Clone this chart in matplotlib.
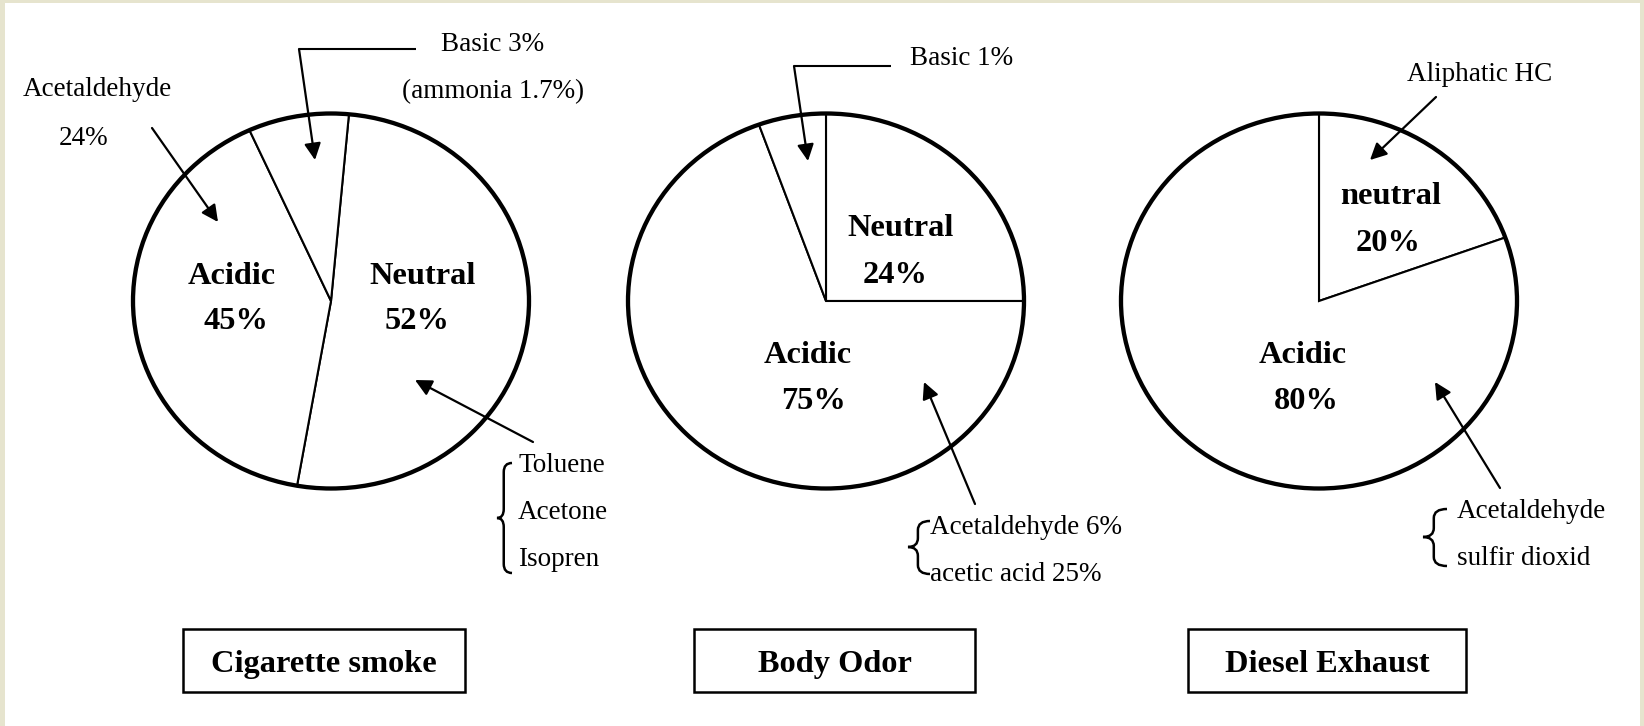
import matplotlib
matplotlib.use("Agg")
import matplotlib.pyplot as plt
from matplotlib.patches import Circle, Rectangle, PathPatch
from matplotlib.path import Path

W, H = 1644, 726
FRAME = "#E6E4CE"
INK = "black"
SERIF = ["Liberation Serif", "DejaVu Serif"]

# wedge shares as drawn in the picture (clockwise from the start angle)
smoke_wedges = [51.3, 40.5, 8.2]     # neutral, acidic, basic
odor_wedges = [25.0, 69.5, 5.5]      # neutral, acidic, basic
diesel_wedges = [19.5, 80.5]         # neutral, acidic
start_angles = [84.8, 90.0, 90.0]

panel_titles = ["Cigarette smoke", "Body Odor", "Diesel Exhaust"]

smoke_names = ["Acidic", "Neutral"]
smoke_pcts = ["45%", "52%"]
odor_names = ["Neutral", "Acidic"]
odor_pcts = ["24%", "75%"]
diesel_names = ["neutral", "Acidic"]
diesel_pcts = ["20%", "80%"]

smoke_notes = ["Acetaldehyde", "24%", "Basic 3%", "(ammonia 1.7%)"]
smoke_list = ["Toluene", "Acetone", "Isopren"]
odor_notes = ["Basic 1%"]
odor_list = ["Acetaldehyde 6%", "acetic acid 25%"]
diesel_notes = ["Aliphatic HC"]
diesel_list = ["Acetaldehyde", "sulfir dioxid"]

fig = plt.figure(figsize=(W / 100, H / 100), dpi=100)
fig.patch.set_facecolor(FRAME)

# pie axes, placed in pixel space
RX, RY, PAD = 198, 187.5, 1.06
centers = [(331, 301), (826, 301), (1319, 301)]
for (cx, cy), wedges, sa in zip(centers, [smoke_wedges, odor_wedges, diesel_wedges], start_angles):
    w, h = 2 * RX * PAD, 2 * RY * PAD
    ax = fig.add_axes([(cx - w / 2) / W, 1 - (cy + h / 2) / H, w / W, h / H])
    ax.pie(wedges, startangle=sa, counterclock=False, colors=["white"] * len(wedges),
           wedgeprops=dict(edgecolor=INK, linewidth=1.5))
    ax.add_patch(Circle((0, 0), 1, fill=False, edgecolor=INK, linewidth=3.1, zorder=5))
    ax.set_aspect("auto")
    ax.set_xlim(-PAD, PAD)
    ax.set_ylim(-PAD, PAD)
    ax.axis("off")
    ax.set_zorder(1)

# overlay in pixel coordinates for text, leaders and boxes
ov = fig.add_axes([0, 0, 1, 1])
ov.set_xlim(0, W)
ov.set_ylim(H, 0)
ov.axis("off")
ov.set_zorder(0)
ov.add_patch(Rectangle((5, 3), W - 9, H, facecolor="white", edgecolor="none", zorder=0))

top = fig.add_axes([0, 0, 1, 1])
top.set_xlim(0, W)
top.set_ylim(H, 0)
top.axis("off")
top.patch.set_alpha(0)
top.set_zorder(2)


def big(x, y, s):
    top.text(x, y + 3.5, s, ha="center", va="center", fontsize=23.3, fontweight="bold",
             family=SERIF, color=INK)


def small(x, y, s, ha="center"):
    top.text(x, y + 2.5, s, ha=ha, va="center", fontsize=19.5, family=SERIF, color=INK)


def arrow(tail, tip):
    top.annotate("", xy=tip, xytext=tail,
                 arrowprops=dict(arrowstyle="-|>,head_length=0.5,head_width=0.25",
                                 mutation_scale=20, lw=1.6, color=INK,
                                 shrinkA=0, shrinkB=0))


def brace(x_tip, x_end, y_top, y_bot, y_mid):
    xv = x_tip + (x_end - x_tip) * 0.45
    k = 9
    verts = [(x_end, y_top), (xv, y_top), (xv, y_top + k),
             (xv, y_mid - k), (xv, y_mid), (x_tip, y_mid),
             (xv, y_mid), (xv, y_mid + k),
             (xv, y_bot - k), (xv, y_bot), (x_end, y_bot)]
    codes = [Path.MOVETO, Path.CURVE3, Path.CURVE3,
             Path.LINETO, Path.CURVE3, Path.CURVE3,
             Path.CURVE3, Path.CURVE3,
             Path.LINETO, Path.CURVE3, Path.CURVE3]
    top.add_patch(PathPatch(Path(verts, codes), fill=False, edgecolor=INK, lw=1.8))


# cigarette smoke
big(232, 273, smoke_names[0]); big(236, 318, smoke_pcts[0])
big(422, 273, smoke_names[1]); big(417, 318, smoke_pcts[1])
small(23, 87, smoke_notes[0], ha="left")
small(84, 136, smoke_notes[1])
small(493, 42, smoke_notes[2])
small(493, 89, smoke_notes[3])
arrow((152, 128), (218, 222))
top.plot([299, 416], [49, 49], color=INK, lw=1.5, solid_capstyle="butt")
arrow((299, 49), (315, 160))
arrow((533, 442), (415, 380))
for y, s in zip([463, 510, 557], smoke_list):
    small(518, y, s, ha="left")
brace(497, 512, 463, 573, 518)

# body odor
big(900, 225, odor_names[0]); big(895, 272, odor_pcts[0])
big(808, 352, odor_names[1]); big(813, 398, odor_pcts[1])
small(962, 56, odor_notes[0])
top.plot([794, 891], [66, 66], color=INK, lw=1.5, solid_capstyle="butt")
arrow((794, 66), (808, 161))
arrow((975, 504), (924, 382))
for y, s in zip([525, 572], odor_list):
    small(930, y, s, ha="left")
brace(908, 930, 521, 574, 547)

# diesel exhaust
big(1391, 193, diesel_names[0]); big(1388, 240, diesel_pcts[0])
big(1303, 352, diesel_names[1]); big(1306, 398, diesel_pcts[1])
small(1480, 72, diesel_notes[0])
arrow((1436, 97), (1370, 160))
arrow((1500, 488), (1435, 382))
for y, s in zip([509, 556], diesel_list):
    small(1457, y, s, ha="left")
brace(1423, 1447, 509, 566, 537)

# title boxes
for (x0, x1), title in zip([(183, 465), (694, 975), (1188, 1466)], panel_titles):
    top.add_patch(Rectangle((x0, 629), x1 - x0, 63, fill=False, edgecolor=INK, lw=1.8))
    big((x0 + x1) / 2, 661, title)

fig.savefig("out.png", dpi=100, facecolor=fig.get_facecolor())
